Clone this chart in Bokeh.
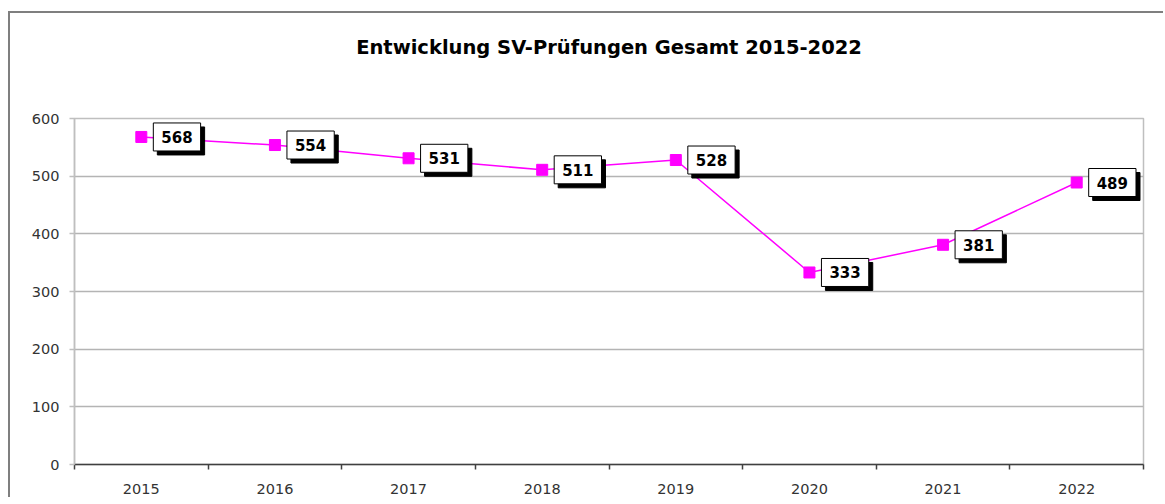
from bokeh.plotting import figure
from bokeh.models import ColumnDataSource, FixedTicker, Range1d, LinearAxis
from bokeh.core.properties import value
from bokeh.embed import file_html
from bokeh.resources import INLINE

title_text = "Entwicklung SV-Prüfungen Gesamt 2015-2022"
years = [2015, 2016, 2017, 2018, 2019, 2020, 2021, 2022]
counts = [568, 554, 531, 511, 528, 333, 381, 489]
y_ticks = [0, 100, 200, 300, 400, 500, 600]

src = ColumnDataSource(dict(x=years, y=counts, label=[str(c) for c in counts]))

p = figure(width=1155, height=486, output_backend="svg", toolbar_location=None,
           x_range=Range1d(years[0] - 0.5, years[-1] + 0.5), y_range=Range1d(0, 600),
           min_border_left=64, min_border_right=22, min_border_top=105, min_border_bottom=35,
           title=title_text)
p.styles = {"border-left": "2px solid #7f7f7f", "border-top": "2px solid #7f7f7f",
            "margin-left": "8px", "margin-top": "11px"}

p.title.align = "center"
p.title.text_font = "DejaVu Sans"
p.title.text_font_style = "bold"
p.title.text_font_size = "19.5px"
p.title.text_color = "#000000"
p.title.standoff = 10

p.outline_line_color = "#bfbfbf"
p.outline_line_width = 1.5
p.background_fill_color = "white"
p.border_fill_color = "white"

xa = p.below[0]
xa.ticker = FixedTicker(ticks=years, minor_ticks=[y - 0.5 for y in years] + [years[-1] + 0.5])
xa.major_tick_line_color = None
xa.major_tick_out = 0
xa.major_tick_in = 0
xa.minor_tick_out = 5
xa.minor_tick_in = 0
xa.minor_tick_line_color = "#404040"
xa.minor_tick_line_width = 1.5
xa.axis_line_color = "#404040"
xa.axis_line_width = 1.5
xa.major_label_standoff = 14
xa.major_label_text_font = "DejaVu Sans"
xa.major_label_text_font_size = "14.5px"
xa.major_label_text_color = "#333333"

ya = p.left[0]
ya.ticker = FixedTicker(ticks=y_ticks)
ya.minor_tick_line_color = None
ya.major_tick_out = 5
ya.major_tick_in = 0
ya.major_tick_line_color = "#bfbfbf"
ya.major_tick_line_width = 1.5
ya.axis_line_color = "#bfbfbf"
ya.axis_line_width = 1.5
ya.major_label_standoff = 10
ya.major_label_text_font = "DejaVu Sans"
ya.major_label_text_font_size = "14.5px"
ya.major_label_text_color = "#333333"

# empty spacer between title and plot area (invisible ticks, blank labels)
spacer = LinearAxis(ticker=FixedTicker(ticks=years), major_tick_out=55, major_tick_in=0,
                    major_tick_line_color=None, axis_line_color=None,
                    minor_tick_line_color=None, major_label_standoff=0,
                    major_label_overrides={y: "" for y in years})
p.add_layout(spacer, "above")

p.xgrid.grid_line_color = None
p.ygrid.grid_line_color = "#b4b4b4"
p.ygrid.grid_line_width = 1.5

p.line("x", "y", source=src, line_color="#ff00ff", line_width=1.5)
p.scatter("x", "y", source=src, marker="square", size=11,
          fill_color="#ff00ff", line_color="#ff00ff")

pad = dict(left=8, right=8, top=8, bottom=8)
p.text("x", "y", text="label", source=src, x_offset=16, y_offset=4,
       text_align="left", text_baseline="middle",
       text_font=value("DejaVu Sans"), text_font_style="bold", text_font_size="15px",
       text_color="black", background_fill_color="black",
       border_line_color="black", border_line_width=1, padding=pad)
p.text("x", "y", text="label", source=src, x_offset=12, y_offset=0,
       text_align="left", text_baseline="middle",
       text_font=value("DejaVu Sans"), text_font_style="bold", text_font_size="15px",
       text_color="black", background_fill_color="white",
       border_line_color="black", border_line_width=1, padding=pad)

open("out.html", "w").write(file_html(p, INLINE))
